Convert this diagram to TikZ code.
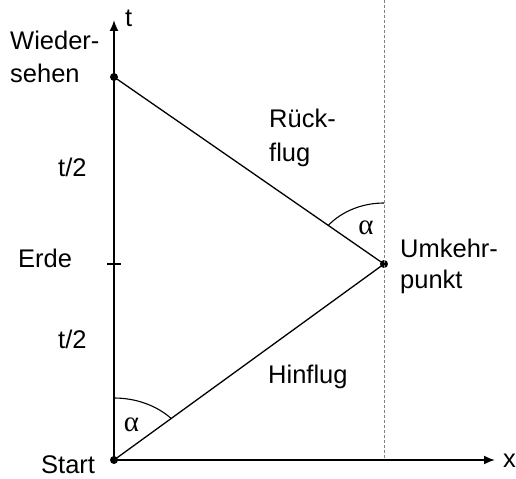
\documentclass[tikz,border=0pt]{standalone}
\usepackage{fontspec}
\setmainfont{Liberation Sans}
\newfontfamily\greekfont{Liberation Serif}
\usetikzlibrary{arrows.meta}
\begin{document}
\begin{tikzpicture}[x=1bp,y=-1bp,
  lbl/.style={font=\fontsize{25.5bp}{33bp}\selectfont, inner sep=0pt, anchor=base west},
  alph/.style={font=\greekfont\fontsize{29bp}{30bp}\selectfont, inner sep=0pt},
  axis/.style={line width=1.8bp, -{Latex[length=11bp,width=9bp]}},
  flight/.style={line width=1.3bp},
  anglearc/.style={line width=1.1bp},
  dotpt/.style={circle, fill=black, inner sep=0pt, minimum size=8bp},
  guide/.style={gray, line width=1bp, dash pattern=on 3bp off 2bp}]
\useasboundingbox (0,0) rectangle (516,479);
\coordinate (O) at (114,460);
\coordinate (T) at (114,20);
\coordinate (X) at (495,460);
\coordinate (G) at (384,0);
\coordinate (GB) at (384,460);
\node[dotpt] (S) at (114,460) {};
\node[dotpt] (W) at (114,77) {};
\node[dotpt] (U) at (384,264) {};
\coordinate (E1) at (107,264);
\coordinate (E2) at (121,264);
\draw[guide] (G) -- (GB);
\draw[axis] (O) -- (T);
\draw[axis] (O) -- (X);
\draw[line width=1.3bp] (E1) -- (E2);
\draw[flight] (S.center) -- (U.center);
\draw[flight] (U.center) -- (W.center);
\draw[anglearc] (114,398) arc[start angle=-90, end angle=-42.3, x radius=77, y radius=62];
\draw[anglearc] (384,203) arc[start angle=-90, end angle=-141.1, x radius=72, y radius=61];
\node[lbl] (lt) at (125,27) {t};
\node[lbl] (lx) at (503,467) {x};
\node[lbl] (lw1) at (10,50) {Wieder-};
\node[lbl] (lw2) at (10,83) {sehen};
\node[lbl] (lt1) at (58,177) {t/2};
\node[lbl] (le) at (18,267) {Erde};
\node[lbl] (lt2) at (58,348) {t/2};
\node[lbl] (ls) at (41,473) {Start};
\node[lbl] (lr1) at (269,128) {Rück-};
\node[lbl] (lr2) at (269,162) {flug};
\node[lbl] (lu1) at (400,257) {Umkehr-};
\node[lbl] (lu2) at (400,288) {punkt};
\node[lbl] (lh) at (268,383) {Hinflug};
\node[alph] (a1) at (131.5,425) {α};
\node[alph] (a2) at (366,228) {α};
\end{tikzpicture}
\end{document}
